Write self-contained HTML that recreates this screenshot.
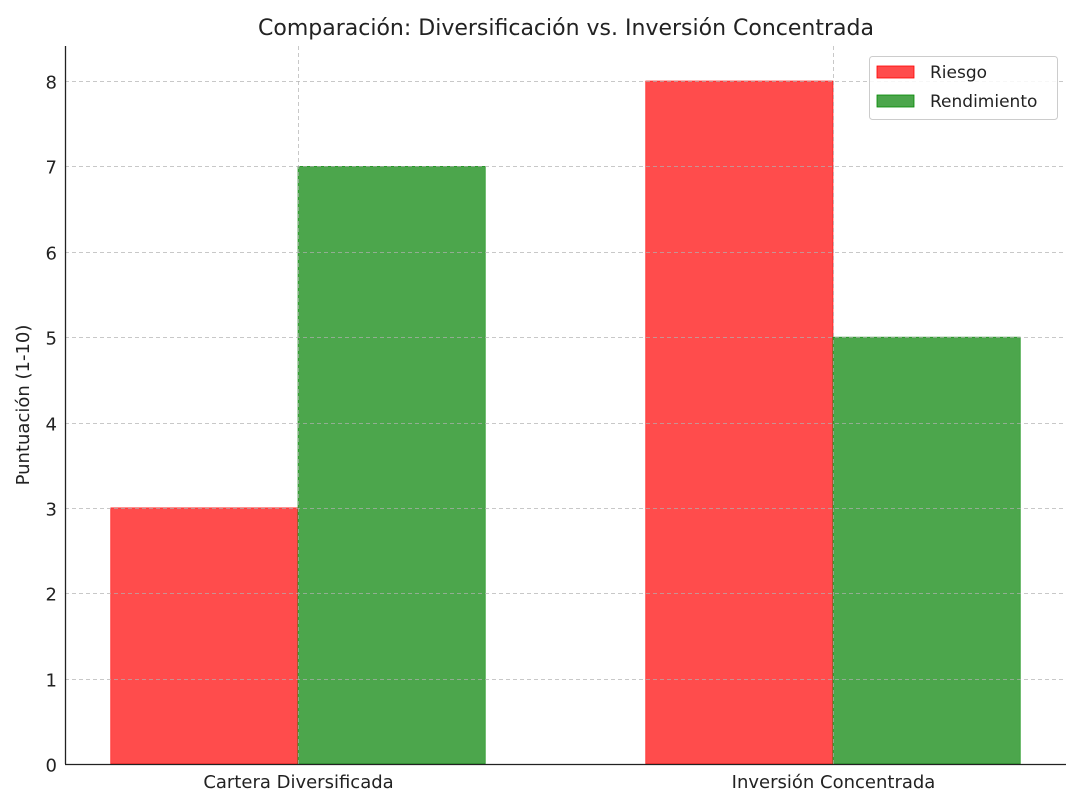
<!DOCTYPE html>
<html><head><meta charset="utf-8"><style>
body{margin:0;background:#fff;}
svg{display:block;font-family:"DejaVu Sans","Liberation Sans",sans-serif;}
</style></head><body>
<svg id="chart" width="1080" height="807" viewBox="0 0 1080 807" xmlns="http://www.w3.org/2000/svg">
<rect width="1080" height="807" fill="#fff"/>
<text x="566" y="35" font-size="22" text-anchor="middle" fill="#222">Comparación: Diversificación vs. Inversión Concentrada</text>
<text transform="translate(29,405) rotate(-90)" font-size="18" text-anchor="middle" fill="#222">Puntuación (1-10)</text>
<g id="bars"></g>
<g id="grid"></g>
<g id="ticks"></g>
<line x1="65.5" y1="46" x2="65.5" y2="764" stroke="#222" stroke-width="1.3"/>
<line x1="65" y1="764.5" x2="1066" y2="764.5" stroke="#222" stroke-width="1.3"/>
<g>
<rect x="869.5" y="56.5" width="188" height="63" rx="3" fill="#fff" fill-opacity="0.85" stroke="#ccc"/>
<rect x="877" y="66" width="37" height="12" fill="#ff4c4c" stroke="#f00" stroke-width="0.8"/>
<text x="930" y="78" font-size="17" fill="#222">Riesgo</text>
<rect x="877" y="95" width="37" height="12" fill="#4ca64c" stroke="#080" stroke-width="0.8"/>
<text x="930" y="107" font-size="17" fill="#222">Rendimiento</text>
</g>
</svg>
<script>
const categories = ["Cartera Diversificada", "Inversión Concentrada"];
const riesgo = [3, 8];
const rendimiento = [7, 5];
const yTicks = [0, 1, 2, 3, 4, 5, 6, 7, 8];

const NS = "http://www.w3.org/2000/svg";
const L = 65, R = 1066, T = 46, B = 764;
const xMin = -0.4355, xMax = 1.4355, yMin = 0, yMax = 8.41;
const xs = v => L + (v - xMin) / (xMax - xMin) * (R - L);
const ys = v => B - (v - yMin) / (yMax - yMin) * (B - T);
const w = 0.35;
function mk(tag, attrs, parent) {
  const e = document.createElementNS(NS, tag);
  for (const k in attrs) e.setAttribute(k, attrs[k]);
  parent.appendChild(e);
  return e;
}
const bars = document.getElementById("bars");
const grid = document.getElementById("grid");
const ticks = document.getElementById("ticks");
const series = [
  {vals: riesgo, off: -w / 2, fill: "#ff4c4c", stroke: "#f00", name: "riesgo"},
  {vals: rendimiento, off: w / 2, fill: "#4ca64c", stroke: "#080", name: "rendimiento"}
];
series.forEach(s => {
  s.vals.forEach((v, i) => {
    const x0 = xs(i + s.off - w / 2), x1 = xs(i + s.off + w / 2);
    const r = mk("rect", {x: x0, y: ys(v), width: x1 - x0, height: ys(0) - ys(v), fill: s.fill, stroke: s.stroke, "stroke-width": 0.6}, bars);
    
    
  });
});
yTicks.forEach(t => {
  const y = Math.round(ys(t)) + 0.5;
  if (t > 0) {
    const g = mk("line", {x1: L, x2: R, y1: y, y2: y, stroke: "#b0b0b0", "stroke-opacity": 0.7, "stroke-dasharray": "4,3"}, grid);
    
    
  }
  const tx = mk("text", {x: 57, y: y + 7, "font-size": 18, "text-anchor": "end", fill: "#222"}, ticks);
  tx.textContent = t;
  
  
});
categories.forEach((c, i) => {
  const x = Math.round(xs(i)) + 0.5;
  const g = mk("line", {x1: x, x2: x, y1: T, y2: B, stroke: "#b0b0b0", "stroke-opacity": 0.7, "stroke-dasharray": "4,3"}, grid);
  
  
  const tx = mk("text", {x: x, y: 788, "font-size": 18, "text-anchor": "middle", fill: "#222"}, ticks);
  tx.textContent = c;
  
  
});
</script>
</body></html>
